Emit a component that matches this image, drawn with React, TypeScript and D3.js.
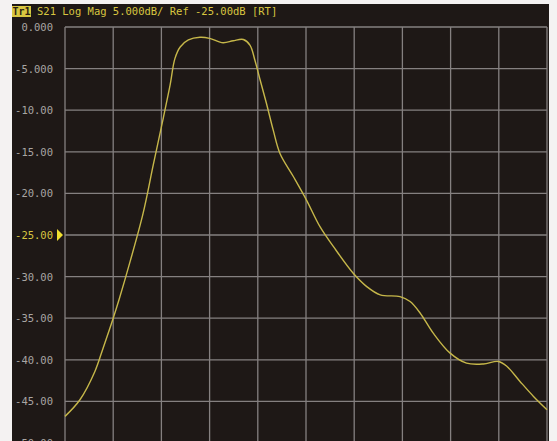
import React from 'react';
import * as d3 from 'd3';

// trace: x in grid divisions (0..10), y in dB
const traceX = [0, 0.31, 0.62, 0.79, 1.0, 1.13, 1.35, 1.62, 1.83, 2.0, 2.18, 2.28, 2.39, 2.56, 2.8, 3.0, 3.28, 3.49, 3.7, 3.84, 3.94, 4.05, 4.18, 4.32, 4.46, 4.74, 5.01, 5.29, 5.57, 5.98, 6.26, 6.54, 6.95, 7.16, 7.37, 7.64, 7.99, 8.33, 8.68, 8.99, 9.17, 9.44, 9.72, 10.0];
const traceDb = [-46.8, -44.8, -41.4, -38.6, -35.0, -32.6, -28.2, -22.4, -16.6, -12.0, -7.0, -3.8, -2.4, -1.56, -1.24, -1.36, -1.9, -1.65, -1.5, -2.2, -4.0, -6.4, -9.2, -12.4, -15.2, -18.0, -20.8, -24.0, -26.4, -29.6, -31.2, -32.2, -32.4, -33.0, -34.4, -36.8, -39.2, -40.4, -40.5, -40.2, -40.8, -42.6, -44.4, -46.0];

const yTicks = [0, -5, -10, -15, -20, -25, -30, -35, -40, -45, -50];
const yTickLabels = ['0.000', '-5.000', '-10.00', '-15.00', '-20.00', '-25.00', '-30.00', '-35.00', '-40.00', '-45.00', '-50.00'];
const xDivisions = [0, 1, 2, 3, 4, 5, 6, 7, 8, 9, 10];
const refLevel = -25;
const header = 'S21 Log Mag 5.000dB/ Ref -25.00dB [RT]';

const W = 557;
const H = 441;
const margin = { left: 65, right: 10, top: 27 };
const font = '"DejaVu Sans Mono", monospace';

const BG = '#1e1816';
const GRID = '#858080';
const TRACE = '#c6b74a';
const YELLOW = '#d8c640';
const LABEL = '#a9a5a3';

export default function App() {
  const x = d3.scaleLinear().domain([0, 10]).range([margin.left, W - margin.right]);
  const y = d3.scaleLinear().domain([0, -50]).range([margin.top, margin.top + 416]);

  const pts: [number, number][] = traceX.map((v, i) => [v, traceDb[i]]);
  const line = d3
    .line<[number, number]>()
    .x((d) => x(d[0]))
    .y((d) => y(d[1]))
    .curve(d3.curveCatmullRom.alpha(0.5));

  const yRef = y(refLevel);

  return (
    <div style={{ position: 'absolute', left: 0, top: 0 }}>
      <svg width={W} height={H} style={{ display: 'block' }}>
        <rect x={0} y={0} width={W} height={H} fill="#f4f2f2" />
        <rect x={12} y={4} width={537} height={H - 4} fill={BG} />

        {/* header */}
        <rect x={12} y={6} width={19} height={11} fill={YELLOW} />
        <text x={21.5} y={15} fontFamily={font} fontSize={10} fill="#2a2010" textAnchor="middle" fontWeight="bold">
          Tr1
        </text>
        <text x={37} y={15} fontFamily={font} fontSize={10.5} fill={YELLOW}>
          {header}
        </text>

        {/* grid */}
        {yTicks.map((t) => (
          <line key={'h' + t} x1={x(0)} x2={x(10)} y1={y(t)} y2={y(t)} stroke={GRID} strokeWidth={1.3} />
        ))}
        {xDivisions.map((d) => (
          <line key={'v' + d} x1={x(d)} x2={x(d)} y1={y(0)} y2={H} stroke={GRID} strokeWidth={1.3} />
        ))}

        {/* y labels (the last one runs off the bottom, as on the screen) */}
        {yTicks.map((t, i) => (
          <text
            key={'l' + t}
            x={53}
            y={y(t) + 4}
            textAnchor="end"
            fontFamily={font}
            fontSize={10.5}
            fill={t === refLevel ? YELLOW : LABEL}
          >
            {yTickLabels[i]}
          </text>
        ))}

        {/* reference marker */}
        <path d={`M${57},${yRef - 6} L${63},${yRef} L${57},${yRef + 6} Z`} fill="#f0e030" />

        {/* trace */}
        <path d={line(pts) || ''} fill="none" stroke={TRACE} strokeWidth={1.4} />
      </svg>
    </div>
  );
}
